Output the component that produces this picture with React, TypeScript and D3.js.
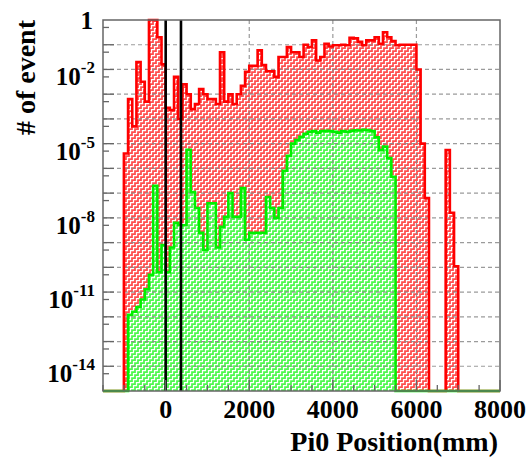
import React from 'react';
import * as d3 from 'd3';

// ---- data (events per 100 mm bin) ----
const BIN_WIDTH = 100;
const RED_FIRST_BIN = -1000;
const redCounts = [
  4e-6, 6.3e-4, 5e-5, 2e-2, 3.2e-3, 5e-4, 1.0, 1.0, 0.2, 1.6e-2,
  2.8e-4, 2.3e-4, 5e-3, 1e-4, 2.5e-3, 1e-3, 2.5e-4, 4e-4, 1.6e-3, 1e-3,
  6.3e-4, 6.3e-4, 4e-4, 5e-2, 5e-4, 1e-3, 4e-4, 1e-3, 2.2e-3, 8e-3,
  1.4e-2, 1.4e-2, 5.9e-2, 1.5e-2, 8.5e-3, 8.5e-3, 5e-3, 3.2e-2, 3.2e-2, 8.1e-2,
  5e-2, 5e-2, 3.2e-2, 0.1, 8.1e-2, 0.15, 2.3e-2, 3.2e-2, 0.11, 8.5e-2,
  9.5e-2, 9.5e-2, 0.1, 9.5e-2, 0.19, 0.18, 0.13, 9.5e-2, 0.15, 0.15,
  0.2, 0.11, 0.32, 0.2, 0.14, 9.5e-2, 0.1, 0.1, 0.1, 0.1,
  1e-2, 1e-5, 6.3e-8, 0, 0, 0, 0, 5.5e-6, 1.6e-8, 1.1e-10,
];
const GREEN_FIRST_BIN = -900;
const greenCounts = [
  1.2e-12, 1.6e-12, 2.5e-12, 5e-12, 1.3e-11, 5e-11, 2e-7, 6.3e-11, 8e-10,
  6.3e-11, 6.3e-10, 6.3e-9, 5e-9, 5e-9, 5.6e-6, 1.1e-7, 2.5e-8, 2.5e-9, 5e-10,
  3.9e-8, 3.9e-8, 6.3e-10, 4.4e-9, 1.1e-8, 1e-7, 1.1e-8, 1.1e-8, 1.6e-7, 1.3e-9,
  2.5e-9, 2.5e-9, 2.5e-9, 2.5e-9, 7e-8, 2.5e-8, 1e-8, 2.5e-8, 8e-7, 3.2e-6,
  1e-5, 1.4e-5, 1.9e-5, 2.5e-5, 3e-5, 3.2e-5, 2.8e-5, 3.2e-5, 3.3e-5, 3.2e-5,
  3e-5, 2.8e-5, 3.2e-5, 3e-5, 3.3e-5, 3.5e-5, 3.4e-5, 3.6e-5, 3.5e-5, 3.2e-5,
  1.8e-5, 5.5e-6, 7.6e-6, 2.6e-6, 4.6e-7,
];
const markerPositions = [0, 366];
const xDomain = [-1500, 8000];
const yDomain = [1e-15, 1];
const xTickLabels = [0, 2000, 4000, 6000, 8000];
const xGridValues = [0, 2000, 4000, 6000];
const yLabelExponents = [-2, -5, -8, -11, -14];
const xTitle = 'Pi0 Position(mm)';
const yTitle = '# of event';

const FONT = '"Liberation Serif", "Times New Roman", serif';
const L = 103, R = 500, T = 20, B = 391;

function histPoints(first: number, counts: number[], x: any, y: any) {
  const pts: [number, number][] = [[x(xDomain[0]), B], [x(first), B]];
  counts.forEach((v, i) => {
    const e0 = first + i * BIN_WIDTH;
    const yy = v > 0 ? y(v) : B;
    pts.push([x(e0), yy], [x(e0 + BIN_WIDTH), yy]);
  });
  pts.push([x(first + counts.length * BIN_WIDTH), B], [x(xDomain[1]), B]);
  return pts;
}

export default function App() {
  const x = d3.scaleLinear().domain(xDomain).range([L, R]);
  const y = d3.scaleLog().domain(yDomain).range([B, T]).clamp(true);

  const redPts = histPoints(RED_FIRST_BIN, redCounts, x, y);
  const greenPts = histPoints(GREEN_FIRST_BIN, greenCounts, x, y);
  const line = d3.line<[number, number]>().x(d => d[0]).y(d => d[1]);
  const area = d3.area<[number, number]>().x(d => d[0]).y0(B).y1(d => d[1]);

  const decades = d3.range(-14, 0).map(e => Math.pow(10, e));
  const fives = d3.range(-15, 0).map(e => 5 * Math.pow(10, e));
  const xMinor = d3.range(-1500, 8001, 500);

  const stair = 'M0,4.5 H1.5 V1.5 H4.5 V0 M4.5,6 V4.5 H6';

  return (
    <svg width={532} height={459} style={{ position: 'absolute', left: 0, top: 0, background: '#fff' }}
      fontFamily={FONT} fontWeight="bold">
      <defs>
        <pattern id="redHatch" patternUnits="userSpaceOnUse" width={6} height={6}>
          <rect width={6} height={6} fill="#ff4d4d" />
          <path d={stair} stroke="#fff" strokeWidth={1.25} fill="none" />
        </pattern>
        <pattern id="greenHatch" patternUnits="userSpaceOnUse" width={6} height={6}>
          <rect width={6} height={6} fill="#4df84d" />
          <path d={stair} stroke="#fff" strokeWidth={1.25} fill="none" />
        </pattern>
      </defs>
      <rect x={0} y={0} width={532} height={459} fill="#fff" />

      <path d={area(redPts) || ''} fill="url(#redHatch)" />
      <path d={area(greenPts) || ''} fill="url(#greenHatch)" />

      {/* grid */}
      <g stroke="#8a8a8a" strokeWidth={1.2} strokeDasharray="4,3" opacity={0.85}>
        {xGridValues.map(v => <line key={'gx' + v} x1={x(v)} x2={x(v)} y1={T} y2={B} />)}
        {decades.map(v => <line key={'gy' + v} x1={L} x2={R} y1={y(v)} y2={y(v)} />)}
      </g>

      <path d={line(redPts) || ''} fill="none" stroke="#ff0000" strokeWidth={2.6} />
      <path d={line(greenPts) || ''} fill="none" stroke="#00f000" strokeWidth={2.6} />

      {markerPositions.map(v => (
        <line key={'m' + v} x1={x(v)} x2={x(v)} y1={T} y2={B} stroke="#000" strokeWidth={2.6} />
      ))}

      {/* frame and ticks */}
      <rect x={L} y={T} width={R - L} height={B - T} fill="none" stroke="#666" strokeWidth={1.5} />
      <g stroke="#666" strokeWidth={1.3}>
        {decades.map(v => <line key={'ty' + v} x1={L} x2={L + 11} y1={y(v)} y2={y(v)} />)}
        {fives.map(v => <line key={'tf' + v} x1={L} x2={L + 6} y1={y(v)} y2={y(v)} />)}
        {xMinor.map(v => (
          <line key={'tx' + v} x1={x(v)} x2={x(v)} y1={B} y2={B - (v % 2000 === 0 ? 11 : 6)} />
        ))}
      </g>

      {/* y labels */}
      <text x={93} y={29} textAnchor="end" fontSize={25} fill="#000">1</text>
      {yLabelExponents.map(e => (
        <text key={'yl' + e} x={95} y={y(Math.pow(10, e)) + 16} textAnchor="end" fontSize={25} fill="#000">
          10<tspan dy={-12} fontSize={17}>{String(e)}</tspan>
        </text>
      ))}

      {/* x labels */}
      {xTickLabels.map(v => (
        <text key={'xl' + v} x={x(v)} y={418} textAnchor="middle" fontSize={26} fill="#000">{v}</text>
      ))}

      <text x={498} y={451} textAnchor="end" fontSize={28} fill="#000">{xTitle}</text>
      <text transform="translate(35,20) rotate(-90)" textAnchor="end" fontSize={28} fill="#000">{yTitle}</text>
    </svg>
  );
}
